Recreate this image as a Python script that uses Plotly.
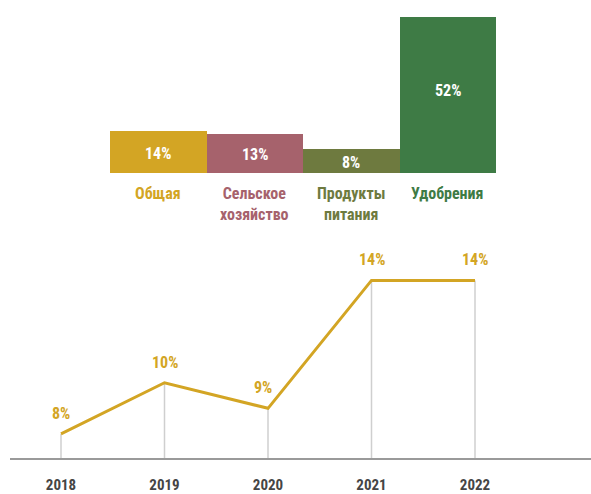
import plotly.graph_objects as go

# Top bar chart data
categories = ["Общая", "Сельское<br>хозяйство", "Продукты<br>питания", "Удобрения"]
shares = [14, 13, 8, 52]
bar_colors = ["#D3A524", "#A6626C", "#6E7A3F", "#3E7B45"]

# Bottom line chart data
years = [2018, 2019, 2020, 2021, 2022]
values = [8, 10, 9, 14, 14]

FONT = "Roboto Condensed, Liberation Sans Narrow, DejaVu Sans Condensed, Roboto, sans-serif"
GOLD = "#D3A524"
W, H = 591, 494

fig = go.Figure()

xpos = list(range(len(categories)))
fig.add_trace(go.Bar(
    x=xpos, y=shares, width=1, marker=dict(color=bar_colors, line=dict(width=0)),
    xaxis="x", yaxis="y", hoverinfo="skip", showlegend=False,
))

ybase = 7.04
# drop lines built from the data
dx, dy = [], []
for yr, v in zip(years, values):
    dx += [yr, yr, None]
    dy += [ybase, v, None]
fig.add_trace(go.Scatter(
    x=dx, y=dy, mode="lines", line=dict(color="#CFCFCF", width=1.5),
    xaxis="x2", yaxis="y2", hoverinfo="skip", showlegend=False,
))
fig.add_trace(go.Scatter(
    x=years, y=values, mode="lines", line=dict(color=GOLD, width=3),
    xaxis="x2", yaxis="y2", hoverinfo="skip", showlegend=False,
))

annotations = []
for i, (v, cat, col) in enumerate(zip(shares, categories, bar_colors)):
    # value label inside the bar
    annotations.append(dict(
        x=i, xref="x", y=v / 2, yref="y", yanchor="middle",
        yshift=-1 if v < 20 else 5,
        text=f"{v}%", showarrow=False,
        font=dict(family=FONT, size=16, color="white", weight="bold"),
    ))
    # category label under the bar
    annotations.append(dict(
        x=i, xref="x", y=1 - 185 / H, yref="paper", yanchor="top",
        text=cat, showarrow=False, align="center",
        font=dict(family=FONT, size=16, color=col, weight="bold"),
    ))
for yr, v in zip(years, values):
    annotations.append(dict(
        x=yr, xref="x2", y=v, yref="y2", yanchor="bottom", yshift=9,
        xshift=-5 if v == 9 else 0,
        text=f"{v}%", showarrow=False,
        font=dict(family=FONT, size=16, color=GOLD, weight="bold"),
    ))

px_per_year = 103.5
x0 = 2018 - (61 - 10) / px_per_year
x1 = x0 + (W - 10) / px_per_year

fig.update_layout(
    width=W, height=H, margin=dict(l=0, r=0, t=0, b=0),
    paper_bgcolor="white", plot_bgcolor="white", bargap=0,
    xaxis=dict(domain=[110 / W, 496 / W], range=[-0.5, len(categories) - 0.5],
               visible=False, fixedrange=True),
    yaxis=dict(domain=[1 - 176 / H, 1 - 5 / H], range=[0, 56], visible=False),
    xaxis2=dict(domain=[10 / W, 1], range=[x0, x1], anchor="y2",
                tickvals=years, ticktext=[str(y) for y in years],
                showgrid=False, zeroline=False, showline=True,
                linecolor="#9A9A9A", linewidth=1.5, ticks="",
                ticklabelstandoff=12,
                tickfont=dict(family=FONT, size=15, color="#454545", weight="bold")),
    yaxis2=dict(domain=[1 - 466 / H, 1 - 255 / H], range=[ybase, ybase + (466 - 255) / 26],
                visible=False),
    annotations=annotations,
)

fig.write_html("out.html", config={"displayModeBar": False},
               post_script="document.body.style.margin='0';document.body.style.overflow='hidden';")
